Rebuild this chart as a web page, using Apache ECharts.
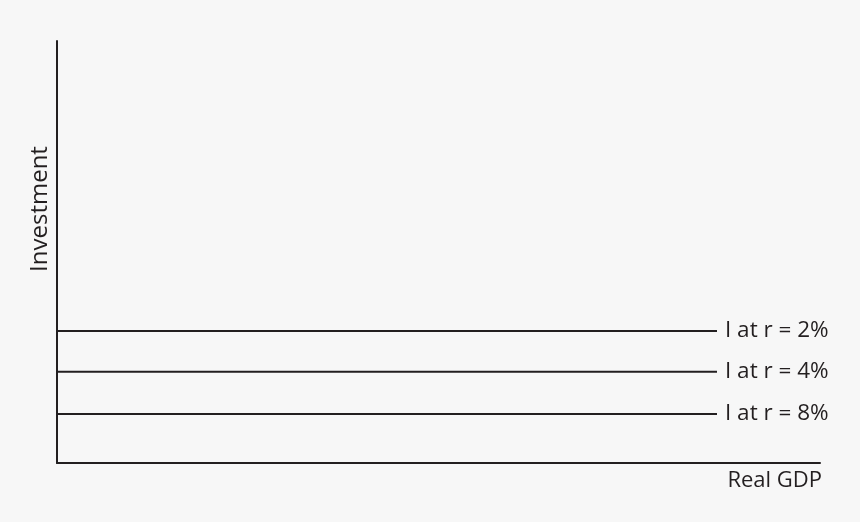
<!DOCTYPE html>
<html>
<head>
<meta charset="utf-8">
<script src="https://cdn.jsdelivr.net/npm/echarts@6/dist/echarts.min.js"></script>
<style>
html,body{margin:0;padding:0;background:#f7f7f7;}
#c{width:860px;height:522px;}
</style>
</head>
<body>
<div id="c"></div>
<script>
const seriesNames = ['I at r = 2%', 'I at r = 4%', 'I at r = 8%'];
const investmentLevels = [31.3, 21.6, 11.6];
const lineStartX = 0;
const lineEndX = 86.5;
const xAxisTitle = 'Real GDP';
const yAxisTitle = 'Investment';

const ink = '#231f20';
const font = '"Open Sans", "Noto Sans", sans-serif';

const chart = echarts.init(document.getElementById('c'));
chart.setOption({
  backgroundColor: '#f7f7f7',
  animation: false,
  grid: {left: 57, right: 40, top: 41, bottom: 59},
  xAxis: {
    type: 'value', min: 0, max: 100,
    axisLine: {show: true, lineStyle: {color: ink, width: 2}},
    axisTick: {show: false}, axisLabel: {show: false}, splitLine: {show: false},
    name: xAxisTitle, nameLocation: 'end', nameGap: 2,
    nameTextStyle: {color: ink, fontSize: 22, fontFamily: font, align: 'right', verticalAlign: 'top', padding: [7, 0, 0, 0]}
  },
  yAxis: {
    type: 'value', min: 0, max: 100,
    axisLine: {show: true, lineStyle: {color: ink, width: 2}},
    axisTick: {show: false}, axisLabel: {show: false}, splitLine: {show: false}
  },
  graphic: [{
    type: 'text', x: 40, y: 209, rotation: Math.PI / 2,
    style: {text: yAxisTitle, fill: ink, font: '24px ' + font, textAlign: 'center', textVerticalAlign: 'middle'}
  }],
  series: seriesNames.map((n, i) => ({
    type: 'line', name: n, symbol: 'none',
    lineStyle: {color: ink, width: 2},
    data: [[lineStartX, investmentLevels[i]], [lineEndX, investmentLevels[i]]],
    endLabel: {show: true, formatter: n, color: ink, fontSize: 22.5, fontFamily: font, distance: 8}
  }))
});
</script>
</body>
</html>
